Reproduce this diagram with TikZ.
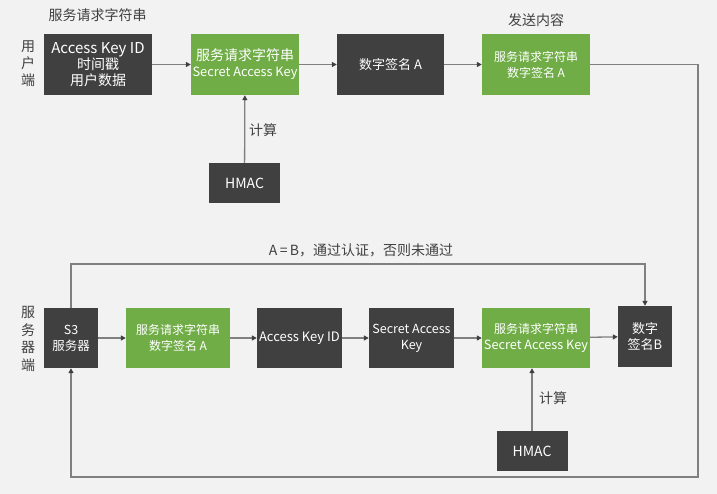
\documentclass[tikz,border=0pt]{standalone}
\usepackage{fontspec}
\setmainfont{Noto Sans CJK SC}
\usetikzlibrary{arrows.meta,positioning}
\definecolor{bggray}{HTML}{F2F2F2}
\definecolor{darkbox}{HTML}{404040}
\definecolor{greenbox}{HTML}{70AD47}
\definecolor{linegray}{HTML}{808080}
\definecolor{txtgray}{HTML}{404040}

\begin{document}
\begin{tikzpicture}[x=1pt,y=-1pt,font=\fontsize{12.5}{16}\selectfont,
  dbox/.style={fill=darkbox,text=white,align=center,inner sep=1pt},
  gbox/.style={fill=greenbox,text=white,align=center,inner sep=1pt},
  lbl/.style={text=txtgray,inner sep=1pt,font=\fontsize{14}{17}\selectfont},
  conn/.style={draw=linegray,line width=1.3pt,-{Triangle[length=5pt,width=5pt,color=darkbox]}}]
\fill[bggray] (0,0) rectangle (717,494);
\useasboundingbox (0,0) rectangle (717,494);
% client side
\node[lbl,align=center] (side1) at (28,64) {用\\户\\端};
\node[lbl] (req1) at (97.5,15) {服务请求字符串};
\node[dbox,minimum width=108,minimum height=61,font=\fontsize{14}{16}\selectfont] (user) at (98,64.5) {{\fontsize{15}{16}\selectfont Access Key ID}\\时间戳\\用户数据};
\node[gbox,minimum width=108,minimum height=61,font=\fontsize{14}{16}\selectfont] (sign1) at (245,64.5) {服务请求字符串\\{\fontsize{12.8}{16}\selectfont Secret Access Key}};
\node[dbox,minimum width=107,minimum height=61,font=\fontsize{13}{16}\selectfont] (siga) at (390.5,64.5) {数字签名 A};
\node[gbox,minimum width=108,minimum height=61,font=\fontsize{12}{16}\selectfont] (send) at (536,64.5) {服务请求字符串\\数字签名 A};
\node[lbl] (sendlbl) at (536,20) {发送内容};
\node[dbox,minimum width=71,minimum height=40,font=\fontsize{14}{16}\selectfont] (hmac1) at (244.5,183) {HMAC};
\node[lbl] (calc1) at (263,130) {计算};
\draw[conn] (user) -- (sign1);
\draw[conn] (sign1) -- (siga);
\draw[conn] (siga) -- (send);
\draw[conn] (hmac1) -- (sign1);
% server side
\node[lbl,align=center,font=\fontsize{14}{17.5}\selectfont] (side2) at (28,339) {服\\务\\器\\端};
\node[dbox,minimum width=54,minimum height=60] (s3) at (71,338) {S3\\服务器};
\node[gbox,minimum width=104,minimum height=60,font=\fontsize{12}{16}\selectfont] (recv) at (178,338) {服务请求字符串\\数字签名 A};
\node[dbox,minimum width=85,minimum height=60,font=\fontsize{13}{15}\selectfont] (akid) at (299.5,338) {Access Key ID};
\node[dbox,minimum width=85,minimum height=60] (sak) at (411.5,338) {Secret Access\\Key};
\node[gbox,minimum width=108,minimum height=60,font=\fontsize{12}{16}\selectfont] (sign2) at (536,338) {服务请求字符串\\{\fontsize{12.7}{16}\selectfont Secret Access Key}};
\node[dbox,minimum width=54,minimum height=61,font=\fontsize{13}{16}\selectfont] (sigb) at (645,336.5) {数字\\签名B};
\node[dbox,minimum width=71,minimum height=40,font=\fontsize{14}{16}\selectfont] (hmac2) at (532,451) {HMAC};
\node[lbl] (calc2) at (553,398) {计算};
\node[lbl] (cmp) at (361,250) {A{\,}={\,}B，通过认证，否则未通过};
\draw[conn] (s3) -- (recv);
\draw[conn] (recv) -- (akid);
\draw[conn] (akid) -- (sak);
\draw[conn] (sak) -- (sign2);
\draw[conn] (sign2) -- (sigb);
\draw[conn] (hmac2) -- (hmac2 |- sign2.south);
\coordinate (toprow) at (71,264);
\draw[conn] (s3.north) -- (toprow) -| (sigb.north);
\coordinate (loopend) at (698,477);
\draw[conn] (send.east) -| (loopend) -| (s3.south);
\end{tikzpicture}
\end{document}
